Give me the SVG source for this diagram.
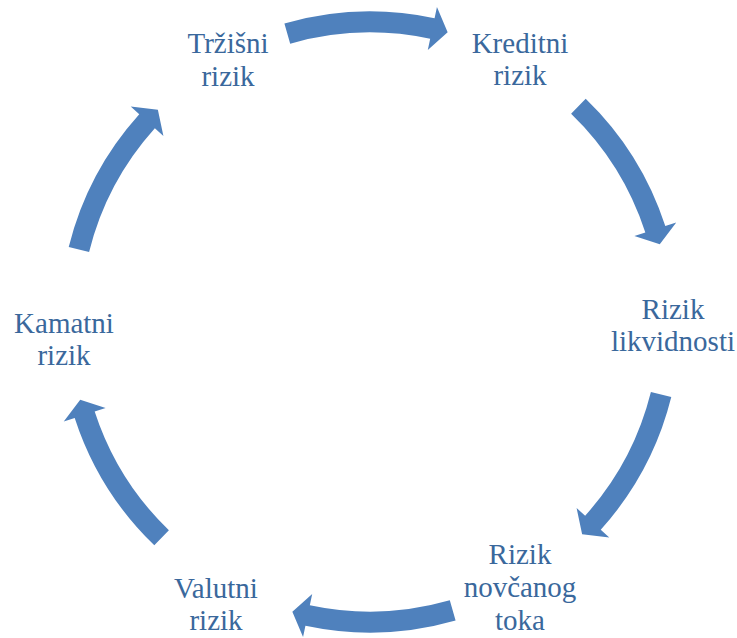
<svg xmlns="http://www.w3.org/2000/svg" width="737" height="638" viewBox="0 0 737 638">
<style>
.arrow{fill:#4F81BD;stroke:none}
.lbl{font-family:'Liberation Serif','Times New Roman','DejaVu Serif',serif;font-size:29px;fill:#3A689C;text-anchor:middle}
</style>
<defs>
<path id="arc-arrow" d="M 284.41,23.53 A 310.5 310.5 0 0 1 434.56,18.29 L 436.95,7.04 L 447.65,32.22 L 427.80,50.08 L 430.19,38.83 A 289.5 289.5 0 0 0 290.20,43.71 Z"/>
</defs>
<rect width="737" height="638" fill="#ffffff"/>
<g id="connectors">
<use href="#arc-arrow" class="arrow"/>
<use href="#arc-arrow" class="arrow" transform="rotate(60 370 322)"/>
<use href="#arc-arrow" class="arrow" transform="rotate(120 370 322)"/>
<use href="#arc-arrow" class="arrow" transform="rotate(180 370 322)"/>
<use href="#arc-arrow" class="arrow" transform="rotate(240 370 322)"/>
<use href="#arc-arrow" class="arrow" transform="rotate(300 370 322)"/>
</g>
<g font-family="Liberation Serif, Times New Roman, DejaVu Serif, serif">
<g id="node-trzisni"><text class="lbl" x="228" y="53">Tržišni</text><text class="lbl" x="228" y="86">rizik</text></g>
<g id="node-kreditni"><text class="lbl" x="520" y="53">Kreditni</text><text class="lbl" x="520" y="85">rizik</text></g>
<g id="node-likvidnosti"><text class="lbl" x="673" y="319">Rizik</text><text class="lbl" x="673" y="351">likvidnosti</text></g>
<g id="node-novcanog"><text class="lbl" x="520" y="564">Rizik</text><text class="lbl" x="520" y="597">novčanog</text><text class="lbl" x="520" y="630">toka</text></g>
<g id="node-valutni"><text class="lbl" x="216" y="598">Valutni</text><text class="lbl" x="216" y="630">rizik</text></g>
<g id="node-kamatni"><text class="lbl" x="64" y="333">Kamatni</text><text class="lbl" x="64" y="365">rizik</text></g>
</g>
</svg>
